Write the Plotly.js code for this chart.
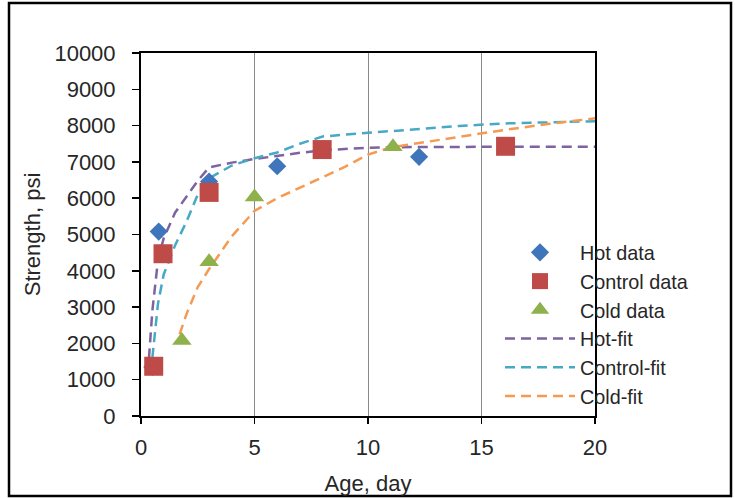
<!DOCTYPE html>
<html>
<head>
<meta charset="utf-8">
<script src="https://cdn.plot.ly/plotly-3.0.1.min.js"></script>
<style>
html, body { margin: 0; padding: 0; background: #fff; }
#chart { width: 735px; height: 498px; }
</style>
</head>
<body>
<div id="chart"></div>
<script>
// Measured data points
const hotDataX = [0.5, 0.78, 3.0, 6.0, 12.25];
const hotDataY = [1350, 5080, 6460, 6880, 7140];

const controlDataX = [0.56, 0.97, 3.0, 7.98, 16.06];
const controlDataY = [1370, 4470, 6160, 7340, 7430];

const coldDataX = [1.8, 3.0, 5.0, 11.1];
const coldDataY = [2080, 4250, 6030, 7420];

// Fitted curves
const hotFitX = [0.3, 0.5, 0.75, 1, 1.5, 2, 2.5, 3, 4, 5, 6, 7, 8, 10, 12, 14, 16, 18, 20];
const hotFitY = [1150, 2900, 4300, 4900, 5600, 6050, 6480, 6850, 6980, 7080, 7170, 7250, 7320, 7390, 7410, 7420, 7420, 7420, 7420];

const controlFitX = [0.5, 0.75, 1, 1.5, 2, 2.5, 3, 4, 5, 6, 7, 8, 10, 12, 14, 16, 18, 20];
const controlFitY = [1600, 3100, 3900, 4700, 5350, 6100, 6550, 6900, 7100, 7260, 7500, 7700, 7800, 7900, 7990, 8060, 8100, 8120];

const coldFitX = [1.7, 2, 2.5, 3, 4, 5, 6, 7, 8, 9, 10, 11, 12, 14, 16, 18, 20];
const coldFitY = [2250, 2800, 3550, 4050, 4950, 5650, 6000, 6300, 6580, 6870, 7200, 7400, 7500, 7700, 7880, 8050, 8200];

const xTicks = [0, 5, 10, 15, 20];
const yTicks = [0, 1000, 2000, 3000, 4000, 5000, 6000, 7000, 8000, 9000, 10000];

const FONT = "Liberation Sans, Arial, sans-serif";
const dashStyle = "10px,6px";

const traces = [
  { x: hotFitX, y: hotFitY, name: "Hot-fit", mode: "lines", legendrank: 4,
    line: { color: "#7E63A0", width: 2.5, dash: dashStyle } },
  { x: controlFitX, y: controlFitY, name: "Control-fit", mode: "lines", legendrank: 5,
    line: { color: "#48A9C5", width: 2.5, dash: dashStyle } },
  { x: coldFitX, y: coldFitY, name: "Cold-fit", mode: "lines", legendrank: 6,
    line: { color: "#F59A52", width: 2.5, dash: dashStyle } },
  { x: hotDataX, y: hotDataY, name: "Hot data", mode: "markers", legendrank: 1,
    marker: { symbol: "diamond", size: 14, color: "#3F75BA" } },
  { x: controlDataX, y: controlDataY, name: "Control data", mode: "markers", legendrank: 2,
    marker: { symbol: "square", size: 19, color: "#BE4B48" } },
  { x: coldDataX, y: coldDataY, name: "Cold data", mode: "markers", legendrank: 3,
    marker: { symbol: "triangle-up", size: 17, color: "#8FB14C" } }
];

const L = 141, R = 595, T = 53, B = 416;
const pw = R - L, ph = B - T;
function px(x) { return (x - L) / pw; }
function py(y) { return (B - y) / ph; }

const layout = {
  width: 735, height: 498,
  margin: { l: L, r: 735 - R, t: T, b: 498 - B, pad: 0 },
  paper_bgcolor: "#ffffff",
  plot_bgcolor: "#ffffff",
  font: { family: FONT, size: 22, color: "#262626" },
  showlegend: true,
  legend: {
    x: px(500), y: py(233), xanchor: "left", yanchor: "top",
    bgcolor: "rgba(0,0,0,0)", borderwidth: 0, itemwidth: 70,
    font: { family: FONT, size: 19.8, color: "#262626" },
    traceorder: "normal"
  },
  xaxis: {
    range: [0, 20], tickvals: xTicks, ticktext: xTicks.map(String),
    showgrid: true, gridcolor: "#8a8a8a", gridwidth: 1,
    zeroline: false, showline: true, linecolor: "#000", linewidth: 2, mirror: true,
    ticks: "outside", ticklen: 6, tickwidth: 1.5, tickcolor: "#000",
    ticklabelstandoff: 5,
    tickfont: { family: FONT, size: 22, color: "#262626" },
    title: { text: "Age, day", font: { family: FONT, size: 22, color: "#262626" }, standoff: 16 }
  },
  yaxis: {
    range: [0, 10000], tickvals: yTicks, ticktext: yTicks.map(String),
    showgrid: false, zeroline: false, showline: true, linecolor: "#000", linewidth: 2, mirror: true,
    ticks: "outside", ticklen: 7, tickwidth: 1.5, tickcolor: "#000",
    ticklabelstandoff: 12,
    tickfont: { family: FONT, size: 22, color: "#262626" },
    title: { text: "Strength, psi", font: { family: FONT, size: 22, color: "#262626" }, standoff: 8 }
  },
  shapes: [{
    type: "rect", xref: "paper", yref: "paper",
    x0: px(9), x1: px(731), y0: py(496), y1: py(3),
    line: { color: "#000", width: 2.5 }, fillcolor: "rgba(0,0,0,0)", layer: "above"
  }]
};

Plotly.newPlot("chart", traces, layout, { displayModeBar: false, staticPlot: true });
</script>
</body>
</html>
